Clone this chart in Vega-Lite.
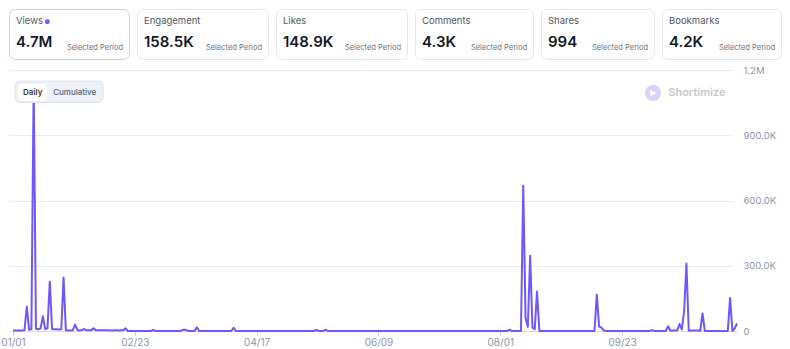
{
  "$schema": "https://vega.github.io/schema/vega-lite/v6.json",
  "background": "white",
  "padding": {"left": 0, "top": 8, "right": 0, "bottom": 0},
  "bounds": "flush",
  "spacing": 61,
  "config": {
    "font": "Inter",
    "view": {"stroke": "#e3e6ee", "strokeWidth": 1, "cornerRadius": 6, "fill": "white"}
  },
  "datasets": {
    "views": [
      {"date":"2025-01-01","views":2000},{"date":"2025-01-02","views":2000},{"date":"2025-01-03","views":2000},{"date":"2025-01-04","views":2000},{"date":"2025-01-05","views":2000},{"date":"2025-01-06","views":4000},{"date":"2025-01-07","views":112000},{"date":"2025-01-08","views":6000},{"date":"2025-01-09","views":8000},{"date":"2025-01-10","views":1140000},{"date":"2025-01-11","views":10000},{"date":"2025-01-12","views":8000},{"date":"2025-01-13","views":12000},{"date":"2025-01-14","views":68000},{"date":"2025-01-15","views":9000},{"date":"2025-01-16","views":12000},{"date":"2025-01-17","views":227000},{"date":"2025-01-18","views":9000},{"date":"2025-01-19","views":8000},{"date":"2025-01-20","views":8000},{"date":"2025-01-21","views":7000},{"date":"2025-01-22","views":8000},{"date":"2025-01-23","views":246000},{"date":"2025-01-24","views":3000},{"date":"2025-01-25","views":2000},{"date":"2025-01-26","views":2000},{"date":"2025-01-27","views":3000},{"date":"2025-01-28","views":29000},{"date":"2025-01-29","views":5000},{"date":"2025-01-30","views":2000},{"date":"2025-01-31","views":5000},
      {"date":"2025-02-01","views":9000},{"date":"2025-02-02","views":3000},{"date":"2025-02-03","views":3000},{"date":"2025-02-04","views":4000},{"date":"2025-02-05","views":12000},{"date":"2025-02-06","views":4000},{"date":"2025-02-07","views":3000},{"date":"2025-02-08","views":4000},{"date":"2025-02-09","views":3000},{"date":"2025-02-10","views":3000},{"date":"2025-02-11","views":4000},{"date":"2025-02-12","views":3000},{"date":"2025-02-13","views":2000},{"date":"2025-02-14","views":3000},{"date":"2025-02-15","views":3000},{"date":"2025-02-16","views":2000},{"date":"2025-02-17","views":3000},{"date":"2025-02-18","views":4000},{"date":"2025-02-19","views":12000},{"date":"2025-02-20","views":0},{"date":"2025-02-21","views":0},{"date":"2025-02-22","views":0},{"date":"2025-02-23","views":0},{"date":"2025-02-24","views":0},{"date":"2025-02-25","views":0},{"date":"2025-02-26","views":0},{"date":"2025-02-27","views":0},{"date":"2025-02-28","views":0},
      {"date":"2025-03-01","views":0},{"date":"2025-03-02","views":0},{"date":"2025-03-03","views":5000},{"date":"2025-03-04","views":0},{"date":"2025-03-05","views":0},{"date":"2025-03-06","views":0},{"date":"2025-03-07","views":0},{"date":"2025-03-08","views":0},{"date":"2025-03-09","views":0},{"date":"2025-03-10","views":0},{"date":"2025-03-11","views":0},{"date":"2025-03-12","views":0},{"date":"2025-03-13","views":0},{"date":"2025-03-14","views":0},{"date":"2025-03-15","views":1000},{"date":"2025-03-16","views":6000},{"date":"2025-03-17","views":6000},{"date":"2025-03-18","views":1000},{"date":"2025-03-19","views":0},{"date":"2025-03-20","views":0},{"date":"2025-03-21","views":0},{"date":"2025-03-22","views":17000},{"date":"2025-03-23","views":0},{"date":"2025-03-24","views":0},{"date":"2025-03-25","views":0},{"date":"2025-03-26","views":0},{"date":"2025-03-27","views":0},{"date":"2025-03-28","views":0},{"date":"2025-03-29","views":0},{"date":"2025-03-30","views":0},{"date":"2025-03-31","views":0},
      {"date":"2025-04-01","views":0},{"date":"2025-04-02","views":0},{"date":"2025-04-03","views":0},{"date":"2025-04-04","views":0},{"date":"2025-04-05","views":0},{"date":"2025-04-06","views":0},{"date":"2025-04-07","views":15000},{"date":"2025-04-08","views":0},{"date":"2025-04-09","views":0},{"date":"2025-04-10","views":0},{"date":"2025-04-11","views":0},{"date":"2025-04-12","views":0},{"date":"2025-04-13","views":0},{"date":"2025-04-14","views":0},{"date":"2025-04-15","views":0},{"date":"2025-04-16","views":0},{"date":"2025-04-17","views":0},{"date":"2025-04-18","views":0},{"date":"2025-04-19","views":0},{"date":"2025-04-20","views":0},{"date":"2025-04-21","views":0},{"date":"2025-04-22","views":0},{"date":"2025-04-23","views":0},{"date":"2025-04-24","views":0},{"date":"2025-04-25","views":0},{"date":"2025-04-26","views":0},{"date":"2025-04-27","views":0},{"date":"2025-04-28","views":0},{"date":"2025-04-29","views":0},{"date":"2025-04-30","views":0},
      {"date":"2025-05-01","views":0},{"date":"2025-05-02","views":0},{"date":"2025-05-03","views":0},{"date":"2025-05-04","views":0},{"date":"2025-05-05","views":0},{"date":"2025-05-06","views":0},{"date":"2025-05-07","views":0},{"date":"2025-05-08","views":0},{"date":"2025-05-09","views":0},{"date":"2025-05-10","views":0},{"date":"2025-05-11","views":0},{"date":"2025-05-12","views":0},{"date":"2025-05-13","views":5000},{"date":"2025-05-14","views":0},{"date":"2025-05-15","views":0},{"date":"2025-05-16","views":0},{"date":"2025-05-17","views":6000},{"date":"2025-05-18","views":0},{"date":"2025-05-19","views":0},{"date":"2025-05-20","views":0},{"date":"2025-05-21","views":0},{"date":"2025-05-22","views":0},{"date":"2025-05-23","views":0},{"date":"2025-05-24","views":0},{"date":"2025-05-25","views":0},{"date":"2025-05-26","views":0},{"date":"2025-05-27","views":0},{"date":"2025-05-28","views":0},{"date":"2025-05-29","views":0},{"date":"2025-05-30","views":0},{"date":"2025-05-31","views":0},
      {"date":"2025-06-01","views":0},{"date":"2025-06-02","views":0},{"date":"2025-06-03","views":0},{"date":"2025-06-04","views":0},{"date":"2025-06-05","views":0},{"date":"2025-06-06","views":0},{"date":"2025-06-07","views":0},{"date":"2025-06-08","views":0},{"date":"2025-06-09","views":0},{"date":"2025-06-10","views":0},{"date":"2025-06-11","views":0},{"date":"2025-06-12","views":0},{"date":"2025-06-13","views":0},{"date":"2025-06-14","views":0},{"date":"2025-06-15","views":0},{"date":"2025-06-16","views":0},{"date":"2025-06-17","views":0},{"date":"2025-06-18","views":0},{"date":"2025-06-19","views":0},{"date":"2025-06-20","views":0},{"date":"2025-06-21","views":0},{"date":"2025-06-22","views":0},{"date":"2025-06-23","views":0},{"date":"2025-06-24","views":0},{"date":"2025-06-25","views":0},{"date":"2025-06-26","views":0},{"date":"2025-06-27","views":0},{"date":"2025-06-28","views":0},{"date":"2025-06-29","views":0},{"date":"2025-06-30","views":0},
      {"date":"2025-07-01","views":0},{"date":"2025-07-02","views":0},{"date":"2025-07-03","views":0},{"date":"2025-07-04","views":0},{"date":"2025-07-05","views":0},{"date":"2025-07-06","views":0},{"date":"2025-07-07","views":0},{"date":"2025-07-08","views":0},{"date":"2025-07-09","views":0},{"date":"2025-07-10","views":0},{"date":"2025-07-11","views":0},{"date":"2025-07-12","views":0},{"date":"2025-07-13","views":0},{"date":"2025-07-14","views":0},{"date":"2025-07-15","views":0},{"date":"2025-07-16","views":0},{"date":"2025-07-17","views":0},{"date":"2025-07-18","views":0},{"date":"2025-07-19","views":0},{"date":"2025-07-20","views":0},{"date":"2025-07-21","views":0},{"date":"2025-07-22","views":0},{"date":"2025-07-23","views":0},{"date":"2025-07-24","views":0},{"date":"2025-07-25","views":0},{"date":"2025-07-26","views":0},{"date":"2025-07-27","views":0},{"date":"2025-07-28","views":0},{"date":"2025-07-29","views":0},{"date":"2025-07-30","views":0},{"date":"2025-07-31","views":0},
      {"date":"2025-08-01","views":0},{"date":"2025-08-02","views":0},{"date":"2025-08-03","views":0},{"date":"2025-08-04","views":0},{"date":"2025-08-05","views":6000},{"date":"2025-08-06","views":0},{"date":"2025-08-07","views":0},{"date":"2025-08-08","views":0},{"date":"2025-08-09","views":0},{"date":"2025-08-10","views":0},{"date":"2025-08-11","views":668000},{"date":"2025-08-12","views":60000},{"date":"2025-08-13","views":18000},{"date":"2025-08-14","views":346000},{"date":"2025-08-15","views":15000},{"date":"2025-08-16","views":8000},{"date":"2025-08-17","views":182000},{"date":"2025-08-18","views":0},{"date":"2025-08-19","views":0},{"date":"2025-08-20","views":0},{"date":"2025-08-21","views":0},{"date":"2025-08-22","views":0},{"date":"2025-08-23","views":0},{"date":"2025-08-24","views":0},{"date":"2025-08-25","views":0},{"date":"2025-08-26","views":0},{"date":"2025-08-27","views":0},{"date":"2025-08-28","views":0},{"date":"2025-08-29","views":0},{"date":"2025-08-30","views":0},{"date":"2025-08-31","views":0},
      {"date":"2025-09-01","views":0},{"date":"2025-09-02","views":0},{"date":"2025-09-03","views":0},{"date":"2025-09-04","views":0},{"date":"2025-09-05","views":0},{"date":"2025-09-06","views":0},{"date":"2025-09-07","views":0},{"date":"2025-09-08","views":0},{"date":"2025-09-09","views":0},{"date":"2025-09-10","views":0},{"date":"2025-09-11","views":0},{"date":"2025-09-12","views":167000},{"date":"2025-09-13","views":20000},{"date":"2025-09-14","views":16000},{"date":"2025-09-15","views":3000},{"date":"2025-09-16","views":0},{"date":"2025-09-17","views":0},{"date":"2025-09-18","views":0},{"date":"2025-09-19","views":0},{"date":"2025-09-20","views":0},{"date":"2025-09-21","views":0},{"date":"2025-09-22","views":0},{"date":"2025-09-23","views":0},{"date":"2025-09-24","views":0},{"date":"2025-09-25","views":0},{"date":"2025-09-26","views":0},{"date":"2025-09-27","views":0},{"date":"2025-09-28","views":0},{"date":"2025-09-29","views":0},{"date":"2025-09-30","views":0},
      {"date":"2025-10-01","views":0},{"date":"2025-10-02","views":0},{"date":"2025-10-03","views":0},{"date":"2025-10-04","views":0},{"date":"2025-10-05","views":0},{"date":"2025-10-06","views":4000},{"date":"2025-10-07","views":0},{"date":"2025-10-08","views":0},{"date":"2025-10-09","views":0},{"date":"2025-10-10","views":0},{"date":"2025-10-11","views":0},{"date":"2025-10-12","views":0},{"date":"2025-10-13","views":22000},{"date":"2025-10-14","views":2000},{"date":"2025-10-15","views":2000},{"date":"2025-10-16","views":2000},{"date":"2025-10-17","views":3000},{"date":"2025-10-18","views":32000},{"date":"2025-10-19","views":7000},{"date":"2025-10-20","views":93000},{"date":"2025-10-21","views":310000},{"date":"2025-10-22","views":1000},{"date":"2025-10-23","views":2000},{"date":"2025-10-24","views":2000},{"date":"2025-10-25","views":2000},{"date":"2025-10-26","views":2000},{"date":"2025-10-27","views":1000},{"date":"2025-10-28","views":81000},{"date":"2025-10-29","views":0},{"date":"2025-10-30","views":0},{"date":"2025-10-31","views":0},
      {"date":"2025-11-01","views":0},{"date":"2025-11-02","views":0},{"date":"2025-11-03","views":0},{"date":"2025-11-04","views":0},{"date":"2025-11-05","views":0},{"date":"2025-11-06","views":0},{"date":"2025-11-07","views":0},{"date":"2025-11-08","views":0},{"date":"2025-11-09","views":152000},{"date":"2025-11-10","views":0},{"date":"2025-11-11","views":12000},{"date":"2025-11-12","views":35000}
    ]
  },
  "vconcat": [
    {
      "bounds": "flush",
      "spacing": 8,
      "hconcat": [
        {
          "width": 120, "height": 50,
          "view": {"stroke": "#c9d2e4", "strokeWidth": 1, "cornerRadius": 6, "fill": "white"},
          "data": {"values": [{"metric": "Views", "total": "4.7M", "period": "Selected Period"}]},
          "layer": [
            {"mark": {"type": "text", "align": "left", "baseline": "middle", "fontSize": 9.5, "color": "#525866"}, "encoding": {"text": {"field": "metric"}, "x": {"datum": 0, "type": "quantitative", "scale": {"domain": [0, 1], "range": [7, 114]}, "axis": null}, "y": {"datum": 0, "type": "quantitative", "scale": {"domain": [0, 1], "range": [11.7, 38.7]}, "axis": null}}},
            {"mark": {"type": "point", "filled": true, "size": 24, "color": "#6c5cf5", "opacity": 1}, "encoding": {"x": {"datum": 0.293, "type": "quantitative"}, "y": {"datum": 0.04, "type": "quantitative"}}},
            {"mark": {"type": "text", "align": "left", "baseline": "middle", "fontSize": 15, "fontWeight": 600, "color": "#111827"}, "encoding": {"text": {"field": "total"}, "x": {"datum": 0, "type": "quantitative"}, "y": {"datum": 0.8, "type": "quantitative"}}},
            {"mark": {"type": "text", "align": "right", "baseline": "middle", "fontSize": 7.5, "color": "#6b7080"}, "encoding": {"text": {"field": "period"}, "x": {"datum": 1, "type": "quantitative"}, "y": {"datum": 1, "type": "quantitative"}}}
          ]
        },
        {
          "width": 131, "height": 50,
          "data": {"values": [{"metric": "Engagement", "total": "158.5K", "period": "Selected Period"}]},
          "layer": [
            {"mark": {"type": "text", "align": "left", "baseline": "middle", "fontSize": 9.5, "color": "#525866"}, "encoding": {"text": {"field": "metric"}, "x": {"datum": 0, "type": "quantitative", "scale": {"domain": [0, 1], "range": [7, 125]}, "axis": null}, "y": {"datum": 0, "type": "quantitative", "scale": {"domain": [0, 1], "range": [11.7, 38.7]}, "axis": null}}},
            {"mark": {"type": "text", "align": "left", "baseline": "middle", "fontSize": 15, "fontWeight": 600, "color": "#111827"}, "encoding": {"text": {"field": "total"}, "x": {"datum": 0, "type": "quantitative"}, "y": {"datum": 0.8, "type": "quantitative"}}},
            {"mark": {"type": "text", "align": "right", "baseline": "middle", "fontSize": 7.5, "color": "#6b7080"}, "encoding": {"text": {"field": "period"}, "x": {"datum": 1, "type": "quantitative"}, "y": {"datum": 1, "type": "quantitative"}}}
          ]
        },
        {
          "width": 131, "height": 50,
          "data": {"values": [{"metric": "Likes", "total": "148.9K", "period": "Selected Period"}]},
          "layer": [
            {"mark": {"type": "text", "align": "left", "baseline": "middle", "fontSize": 9.5, "color": "#525866"}, "encoding": {"text": {"field": "metric"}, "x": {"datum": 0, "type": "quantitative", "scale": {"domain": [0, 1], "range": [7, 125]}, "axis": null}, "y": {"datum": 0, "type": "quantitative", "scale": {"domain": [0, 1], "range": [11.7, 38.7]}, "axis": null}}},
            {"mark": {"type": "text", "align": "left", "baseline": "middle", "fontSize": 15, "fontWeight": 600, "color": "#111827"}, "encoding": {"text": {"field": "total"}, "x": {"datum": 0, "type": "quantitative"}, "y": {"datum": 0.8, "type": "quantitative"}}},
            {"mark": {"type": "text", "align": "right", "baseline": "middle", "fontSize": 7.5, "color": "#6b7080"}, "encoding": {"text": {"field": "period"}, "x": {"datum": 1, "type": "quantitative"}, "y": {"datum": 1, "type": "quantitative"}}}
          ]
        },
        {
          "width": 118, "height": 50,
          "data": {"values": [{"metric": "Comments", "total": "4.3K", "period": "Selected Period"}]},
          "layer": [
            {"mark": {"type": "text", "align": "left", "baseline": "middle", "fontSize": 9.5, "color": "#525866"}, "encoding": {"text": {"field": "metric"}, "x": {"datum": 0, "type": "quantitative", "scale": {"domain": [0, 1], "range": [7, 112]}, "axis": null}, "y": {"datum": 0, "type": "quantitative", "scale": {"domain": [0, 1], "range": [11.7, 38.7]}, "axis": null}}},
            {"mark": {"type": "text", "align": "left", "baseline": "middle", "fontSize": 15, "fontWeight": 600, "color": "#111827"}, "encoding": {"text": {"field": "total"}, "x": {"datum": 0, "type": "quantitative"}, "y": {"datum": 0.8, "type": "quantitative"}}},
            {"mark": {"type": "text", "align": "right", "baseline": "middle", "fontSize": 7.5, "color": "#6b7080"}, "encoding": {"text": {"field": "period"}, "x": {"datum": 1, "type": "quantitative"}, "y": {"datum": 1, "type": "quantitative"}}}
          ]
        },
        {
          "width": 113, "height": 50,
          "data": {"values": [{"metric": "Shares", "total": "994", "period": "Selected Period"}]},
          "layer": [
            {"mark": {"type": "text", "align": "left", "baseline": "middle", "fontSize": 9.5, "color": "#525866"}, "encoding": {"text": {"field": "metric"}, "x": {"datum": 0, "type": "quantitative", "scale": {"domain": [0, 1], "range": [7, 107]}, "axis": null}, "y": {"datum": 0, "type": "quantitative", "scale": {"domain": [0, 1], "range": [11.7, 38.7]}, "axis": null}}},
            {"mark": {"type": "text", "align": "left", "baseline": "middle", "fontSize": 15, "fontWeight": 600, "color": "#111827"}, "encoding": {"text": {"field": "total"}, "x": {"datum": 0, "type": "quantitative"}, "y": {"datum": 0.8, "type": "quantitative"}}},
            {"mark": {"type": "text", "align": "right", "baseline": "middle", "fontSize": 7.5, "color": "#6b7080"}, "encoding": {"text": {"field": "period"}, "x": {"datum": 1, "type": "quantitative"}, "y": {"datum": 1, "type": "quantitative"}}}
          ]
        },
        {
          "width": 119, "height": 50,
          "data": {"values": [{"metric": "Bookmarks", "total": "4.2K", "period": "Selected Period"}]},
          "layer": [
            {"mark": {"type": "text", "align": "left", "baseline": "middle", "fontSize": 9.5, "color": "#525866"}, "encoding": {"text": {"field": "metric"}, "x": {"datum": 0, "type": "quantitative", "scale": {"domain": [0, 1], "range": [7, 113]}, "axis": null}, "y": {"datum": 0, "type": "quantitative", "scale": {"domain": [0, 1], "range": [11.7, 38.7]}, "axis": null}}},
            {"mark": {"type": "text", "align": "left", "baseline": "middle", "fontSize": 15, "fontWeight": 600, "color": "#111827"}, "encoding": {"text": {"field": "total"}, "x": {"datum": 0, "type": "quantitative"}, "y": {"datum": 0.8, "type": "quantitative"}}},
            {"mark": {"type": "text", "align": "right", "baseline": "middle", "fontSize": 7.5, "color": "#6b7080"}, "encoding": {"text": {"field": "period"}, "x": {"datum": 1, "type": "quantitative"}, "y": {"datum": 1, "type": "quantitative"}}}
          ]
        }
      ]
    },
    {
      "width": 728, "height": 261,
      "view": {"stroke": null, "fill": null, "cornerRadius": 0},
      "layer": [
        {
          "data": {"name": "views"},
          "mark": {"type": "line", "color": "#7156fb", "strokeWidth": 2, "strokeJoin": "round"},
          "encoding": {
            "x": {
              "field": "date", "type": "temporal",
              "scale": {"type": "utc", "domain": [{"year": 2025, "month": 1, "date": 1, "utc": true}, {"year": 2025, "month": 11, "date": 12, "utc": true}], "range": [4, 728]},
              "axis": {
                "title": null, "grid": false,
                "labelExpr": "utcFormat(datum.value, '%m/%d')",
                "values": [
                  {"year": 2025, "month": 1, "date": 1, "utc": true},
                  {"year": 2025, "month": 2, "date": 23, "utc": true},
                  {"year": 2025, "month": 4, "date": 17, "utc": true},
                  {"year": 2025, "month": 6, "date": 9, "utc": true},
                  {"year": 2025, "month": 8, "date": 1, "utc": true},
                  {"year": 2025, "month": 9, "date": 23, "utc": true}
                ],
                "labelFlush": false, "labelOverlap": false, "labelBound": false,
                "domain": true, "domainColor": "#d6dae3", "ticks": true, "tickColor": "#c5cad6", "tickSize": 4,
                "labelPadding": 2, "labelColor": "#8e96aa", "labelFontSize": 10, "labelFont": "Inter"
              }
            },
            "y": {
              "field": "views", "type": "quantitative",
              "scale": {"domain": [0, 1200000]},
              "axis": {
                "title": null, "orient": "right", "values": [0, 300000, 600000, 900000, 1200000],
                "labelExpr": "datum.value >= 1000000 ? format(datum.value / 1000000, '.1f') + 'M' : datum.value > 0 ? format(datum.value / 1000, '.1f') + 'K' : '0'",
                "domain": false, "ticks": false, "labelPadding": 6, "grid": true, "gridColor": "#e9ecf4", "gridWidth": 1,
                "labelColor": "#8e96aa", "labelFontSize": 9.5, "labelFont": "Inter"
              }
            }
          }
        },
        {
          "data": {"values": [{}]},
          "mark": {"type": "rect", "fill": "#eef1f6", "stroke": "#dde2eb", "strokeWidth": 1, "cornerRadius": 5},
          "encoding": {
            "x": {"datum": {"year": 2025, "month": 1, "date": 1, "hours": 21, "utc": true}, "type": "temporal"},
            "x2": {"datum": {"year": 2025, "month": 2, "date": 9, "hours": 4, "utc": true}},
            "y": {"datum": 1149000, "type": "quantitative"},
            "y2": {"datum": 1050600}
          }
        },
        {
          "data": {"values": [{}]},
          "mark": {"type": "rect", "fill": "white", "cornerRadius": 4},
          "encoding": {
            "x": {"datum": {"year": 2025, "month": 1, "date": 3, "hours": 4, "utc": true}, "type": "temporal"},
            "x2": {"datum": {"year": 2025, "month": 1, "date": 15, "hours": 22, "utc": true}},
            "y": {"datum": 1137000, "type": "quantitative"},
            "y2": {"datum": 1057500}
          }
        },
        {
          "data": {"values": [{"label": "Daily"}]},
          "mark": {"type": "text", "align": "center", "baseline": "middle", "fontSize": 8, "fontWeight": 600, "color": "#343846"},
          "encoding": {
            "x": {"datum": {"year": 2025, "month": 1, "date": 9, "hours": 14, "utc": true}, "type": "temporal"},
            "y": {"datum": 1095600, "type": "quantitative"},
            "text": {"field": "label"}
          }
        },
        {
          "data": {"values": [{"label": "Cumulative"}]},
          "mark": {"type": "text", "align": "center", "baseline": "middle", "fontSize": 8, "fontWeight": 500, "color": "#56628c"},
          "encoding": {
            "x": {"datum": {"year": 2025, "month": 1, "date": 27, "hours": 20, "utc": true}, "type": "temporal"},
            "y": {"datum": 1095600, "type": "quantitative"},
            "text": {"field": "label"}
          }
        },
        {
          "data": {"values": [{}]},
          "mark": {"type": "point", "shape": "circle", "filled": true, "size": 260, "color": "#dcd3fc", "opacity": 1},
          "encoding": {
            "x": {"datum": {"year": 2025, "month": 10, "date": 6, "hours": 11, "utc": true}, "type": "temporal"},
            "y": {"datum": 1094300, "type": "quantitative"}
          }
        },
        {
          "data": {"values": [{}]},
          "mark": {"type": "point", "shape": "triangle-right", "filled": true, "size": 45, "color": "white", "opacity": 1},
          "encoding": {
            "x": {"datum": {"year": 2025, "month": 10, "date": 6, "hours": 14, "utc": true}, "type": "temporal"},
            "y": {"datum": 1094300, "type": "quantitative"}
          }
        },
        {
          "data": {"values": [{"label": "Shortimize"}]},
          "mark": {"type": "text", "align": "left", "baseline": "middle", "fontSize": 11, "fontWeight": 600, "color": "#c6c7ce"},
          "encoding": {
            "x": {"datum": {"year": 2025, "month": 10, "date": 13, "hours": 2, "utc": true}, "type": "temporal"},
            "y": {"datum": 1094300, "type": "quantitative"},
            "text": {"field": "label"}
          }
        }
      ]
    }
  ]
}
